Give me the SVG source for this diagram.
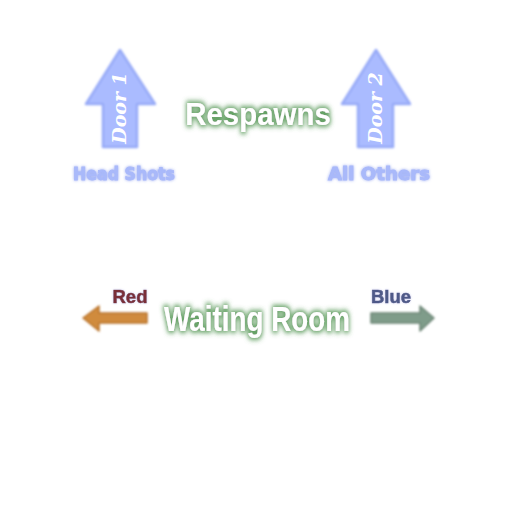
<svg xmlns="http://www.w3.org/2000/svg" width="512" height="512" viewBox="0 0 512 512">
<defs>
<filter id="blur1" x="-20%" y="-20%" width="140%" height="140%"><feGaussianBlur stdDeviation="0.8"/></filter>
<filter id="glowG" x="-7%" y="-35%" width="114%" height="170%">
<feMorphology in="SourceAlpha" operator="dilate" radius="1.5" result="d"/>
<feGaussianBlur in="d" stdDeviation="2.5" result="b"/>
<feFlood flood-color="#3f8a3f" flood-opacity="0.8"/>
<feComposite in2="b" operator="in" result="g"/>
<feMerge><feMergeNode in="g"/><feMergeNode in="SourceGraphic"/></feMerge>
</filter>
<filter id="glowB" x="-10%" y="-40%" width="120%" height="180%">
<feGaussianBlur in="SourceAlpha" stdDeviation="1.5" result="b"/>
<feFlood flood-color="#8fa0f0" flood-opacity="0.9"/>
<feComposite in2="b" operator="in" result="g"/>
<feMerge><feMergeNode in="g"/><feMergeNode in="SourceGraphic"/></feMerge>
</filter>
<filter id="glowL" x="-15%" y="-30%" width="130%" height="160%">
<feGaussianBlur in="SourceAlpha" stdDeviation="1.2" result="b"/>
<feFlood flood-color="#c8c8f0" flood-opacity="0.9"/>
<feComposite in2="b" operator="in" result="g"/>
<feMerge><feMergeNode in="g"/><feMergeNode in="SourceGraphic"/></feMerge>
</filter>
</defs>
<style>
.door{fill:#aabbff;stroke:#97aaf7;stroke-width:2.5;stroke-linejoin:round}
.dlab{font-family:"DejaVu Serif",serif;font-style:italic;font-weight:bold;font-size:19px;fill:#ffffff;text-anchor:middle}
.sub{font-family:"DejaVu Sans",sans-serif;font-weight:bold;font-size:17px;fill:#a9b9fa;stroke:#a9b9fa;stroke-width:0.8;text-anchor:middle}
.title{font-family:"Liberation Sans",sans-serif;font-weight:bold;fill:#ffffff;text-anchor:middle}
.team{font-family:"Liberation Sans",sans-serif;font-weight:bold;font-size:19px;stroke-width:0.6;text-anchor:middle}
</style>
<rect width="512" height="512" fill="#ffffff"/>
<g id="door1">
<polygon class="door" filter="url(#blur1)" points="120,50 155,104 137,104 137,147 103,147 103,104 86,104"/>
<text class="dlab" transform="translate(126,108) rotate(-90)">Door 1</text>
<text class="sub" x="124" y="180" textLength="102" lengthAdjust="spacingAndGlyphs" filter="url(#glowB)">Head Shots</text>
</g>
<g id="door2">
<polygon class="door" filter="url(#blur1)" points="376,50 410,104 393,104 393,147 358,147 358,104 342,104"/>
<text class="dlab" transform="translate(382,108) rotate(-90)">Door 2</text>
<text class="sub" x="379" y="180" textLength="102" lengthAdjust="spacingAndGlyphs" filter="url(#glowB)">All Others</text>
</g>
<g id="respawns">
<text class="title" transform="translate(258,125) scale(0.95,1)" font-size="31" filter="url(#glowG)">Respawns</text>
</g>
<g id="waiting">
<text class="title" transform="translate(257,331) scale(0.795,1)" font-size="35" filter="url(#glowG)">Waiting Room</text>
</g>
<g id="connectors">
<polygon filter="url(#blur1)" fill="#d08b3c" stroke="#b8712a" stroke-width="1.5" stroke-linejoin="round" points="83,318 99,306 99,313 147,313 147,323 99,323 99,331"/>
<polygon filter="url(#blur1)" fill="#7f9c8a" stroke="#6b8474" stroke-width="1.5" stroke-linejoin="round" points="434,318 420,306 420,313 371,313 371,323 420,323 420,331"/>
</g>
<g id="red">
<text class="team" x="130" y="303" fill="#7a2f38" stroke="#7a2f38" textLength="35" lengthAdjust="spacingAndGlyphs" filter="url(#glowL)">Red</text>
</g>
<g id="blue">
<text class="team" x="391" y="303" fill="#4f5a88" stroke="#4f5a88" textLength="40" lengthAdjust="spacingAndGlyphs" filter="url(#glowL)">Blue</text>
</g>
</svg>
